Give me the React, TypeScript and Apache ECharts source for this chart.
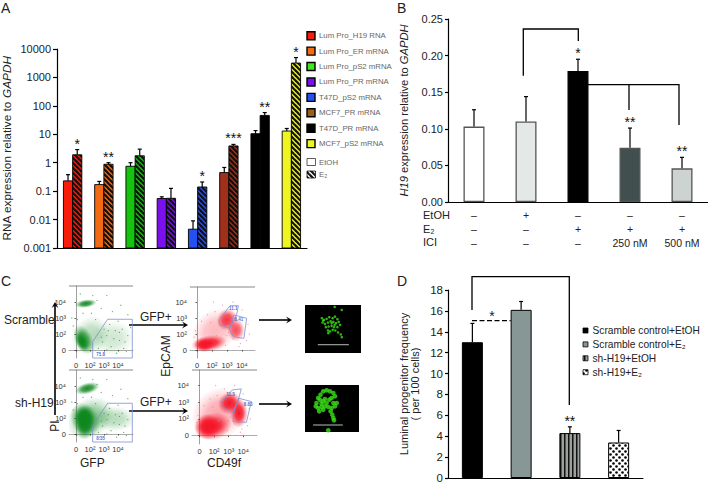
import React, { useEffect, useRef } from "react";
import * as echarts from "echarts";

const FONT = "Liberation Sans";

// Panel A
const catsA = ["Lum Pro_H19 RNA", "Lum Pro_ER mRNA", "Lum Pro_pS2 mRNA", "Lum Pro_PR mRNA", "T47D_pS2 mRNA", "MCF7_PR mRNA", "T47D_PR mRNA", "MCF7_pS2 mRNA"];
const etohA = [0.23, 0.17, 0.75, 0.055, 0.0046, 0.45, 10.5, 13];
const e2A = [1.9, 0.88, 1.75, 0.056, 0.14, 3.9, 46, 3200];
const etohTopA = [0.38, 0.22, 1.0, 0.063, 0.009, 0.68, 13.5, 16];
const e2TopA = [2.9, 1.0, 3.0, 0.125, 0.21, 4.4, 58, 5000];
const starsA = ["*", "**", "", "", "*", "***", "**", "*"];
const colorsA = ["#f81c0a", "#f36a14", "#14c40e", "#7a10ee", "#2550f0", "#a0301a", "#000000", "#eef520"];
const swatchA = ["#f81c0a", "#f36a14", "#3ee81c", "#7a10ee", "#2550f0", "#9a6018", "#000000", "#eef520"];
const ticksA = ["0.001", "0.01", "0.1", "1", "10", "100", "1000", "10000"];
const baseA = 0.001;

// Panel B
const catsB = ["–\n–\n–", "+\n–\n–", "–\n+\n–", "–\n+\n250 nM", "–\n+\n500 nM"];
const valsB = [0.103, 0.11, 0.179, 0.074, 0.046];
const topsB = [0.126, 0.144, 0.195, 0.101, 0.061];
const starsB = ["", "", "*", "**", "**"];
const colorsB = ["#ffffff", "#e4e9e7", "#000000", "#41504f", "#cdd3d0"];
const rowsB = ["EtOH", "E₂", "ICI"];

// Panel D
const catsD = ["Scramble control+EtOH", "Scramble control+E₂", "sh-H19+EtOH", "sh-H19+E₂"];
const valsD = [13, 16.1, 4.3, 3.4];
const topsD = [14.8, 16.9, 4.9, 4.55];
const starsD = ["", "", "**", ""];

// Panel C : cx, cy, rx, ry (decades), rotation deg, alpha
const cloud1 = [[1.0, 0.9, 1.5, 1.1, -50, 0.3], [2.6, 0.75, 1.6, 1.1, 0, 0.2], [0.55, 0.65, 0.65, 0.95, -25, 0.85], [0.42, 0.5, 0.42, 0.65, -22, 1], [0.7, 2.9, 0.78, 0.26, -8, 0.95]];
const cloud2 = [[1.0, 1.0, 1.8, 1.2, -35, 0.5], [2.7, 0.95, 1.6, 0.8, 0, 0.3], [0.65, 0.9, 1.0, 1.1, -30, 0.95], [0.6, 0.6, 0.7, 0.95, 0, 1], [0.6, 1.1, 0.7, 0.7, 0, 1], [0.8, 2.85, 0.9, 0.36, -14, 0.95]];
const cloud3 = [[1.2, 1.2, 1.7, 1.3, -42, 0.3], [0.8, 0.42, 1.2, 0.5, -8, 1], [0.45, 0.32, 0.65, 0.45, 0, 1], [2.0, 1.9, 0.68, 0.72, 30, 0.85], [2.6, 1.25, 0.6, 0.72, 0, 0.75]];
const cloud4 = [[1.3, 1.3, 2.0, 1.5, -42, 0.38], [0.9, 0.55, 1.3, 0.8, -14, 1], [0.5, 0.55, 0.85, 0.78, 0, 1], [2.05, 1.95, 0.82, 0.66, -30, 1], [2.7, 1.35, 0.62, 0.88, 0, 1]];
const specksG = [[1.6, 0.1], [1.9, 0.5], [2.2, 0.9], [2.5, 0.2], [2.8, 1.2], [3.1, 0.6], [3.4, 0.1], [3.7, 0.9], [3.9, 1.4], [2.0, 1.3], [2.4, 1.6], [3.0, 1.8], [3.3, 1.3], [1.7, -0.2], [2.9, -0.2], [3.6, -0.1], [1.4, 1.9], [1.1, 2.3], [0.5, 2.3], [1.8, 2.6], [2.6, 2.4], [3.2, 2.8], [1.5, 3.1], [0.3, 3.5], [1.2, 3.4], [2.2, 3.4], [-0.2, 1.5], [-0.3, 2.0], [3.7, 2.2], [2.2, 0.0], [2.7, 0.7], [3.5, 0.5], [1.8, 0.8], [2.3, 1.2], [3.1, 1.1], [0.1, 1.9]];
const specksR = [[1.9, 0.3], [2.4, 0.7], [2.9, 0.4], [3.3, 0.6], [1.6, 2.1], [1.2, 2.4], [0.7, 2.2], [0.3, 1.8], [1.7, 2.8], [2.4, 3.0], [3.0, 2.5], [3.4, 1.6], [3.5, 1.0], [2.0, 0.9], [1.5, 1.6], [0.9, 1.7], [-0.1, 1.2], [-0.2, 0.8], [1.1, 3.0], [2.1, 1.1], [2.8, 0.2], [1.3, 0.9]];
const gatesGreen = [[[1.19, -0.5], [1.19, 0.52], [2.26, 1.92], [4.02, 1.92], [4.02, -0.5], [1.19, -0.5]]];
const gates3 = [
  [[2.2, 2.77], [2.76, 2.77], [2.64, 2.19], [2.16, 1.36], [1.53, 1.56], [1.47, 1.88], [2.2, 2.77]],
  [[2.47, 2.19], [3.31, 1.98], [3.13, 0.73], [2.42, 0.83], [2.15, 1.29], [2.47, 2.19]],
];
const gates4 = [
  [[2.25, 2.74], [2.87, 2.8], [2.69, 2.24], [2.3, 1.38], [1.5, 1.74], [1.5, 2.04], [2.25, 2.74]],
  [[2.69, 2.24], [3.56, 2.04], [3.22, 0.8], [2.3, 0.84], [2.34, 1.34], [2.69, 2.24]],
];
const flowTicks = ["0", "10²", "10³", "10⁴"];
const colony1 = [[104, 21], [125, 30], [66, 55], [72, 60], [80, 57], [88, 52], [98, 55], [105, 50], [112, 58], [68, 68], [75, 72], [84, 68], [92, 64], [100, 66], [108, 70], [116, 66], [78, 82], [86, 80], [95, 78], [102, 82], [112, 82], [120, 75], [84, 92], [90, 95], [98, 90], [106, 92], [114, 98], [122, 104], [125, 112], [85, 100], [70, 62], [95, 70], [104, 75]];
const colony2 = [[55, 295], [62, 285], [70, 275], [80, 272], [90, 275], [100, 280], [105, 290], [95, 295], [60, 300], [50, 310], [48, 320], [55, 325], [65, 322], [75, 320], [85, 322], [95, 325], [105, 320], [110, 310], [100, 310], [70, 305], [65, 312], [75, 298], [88, 300], [80, 310], [92, 335], [97, 345], [100, 355], [102, 362], [85, 392], [58, 335], [70, 330]];
const scale1 = [[54, 135], [146, 135]];
const scale2 = [[40, 376], [128, 376]];

function tile(size: number, draw: (c: CanvasRenderingContext2D) => void) {
  const cv = document.createElement("canvas");
  cv.width = size;
  cv.height = size;
  draw(cv.getContext("2d") as CanvasRenderingContext2D);
  return { image: cv, repeat: "repeat" };
}
function hatch(bg: string, fg = "#111") {
  return tile(5, (c) => {
    c.fillStyle = bg;
    c.fillRect(0, 0, 5, 5);
    c.strokeStyle = fg;
    c.lineWidth = 2.2;
    for (const d of [-5, 0, 5]) {
      c.beginPath();
      c.moveTo(d - 1, -1);
      c.lineTo(d + 6, 6);
      c.stroke();
    }
  });
}
function stripes() {
  return tile(4, (c) => {
    c.fillStyle = "#9aa09c";
    c.fillRect(0, 0, 4, 4);
    c.fillStyle = "#111";
    c.fillRect(0, 0, 1.5, 4);
  });
}
function dots() {
  return tile(6, (c) => {
    c.fillStyle = "#fff";
    c.fillRect(0, 0, 6, 6);
    c.fillStyle = "#000";
    for (const [x, y] of [[1.5, 1.5], [4.5, 4.5]]) {
      c.beginPath();
      c.arc(x, y, 1.3, 0, Math.PI * 2);
      c.fill();
    }
  });
}

function logBars(vals: number[], off: number, fills: any[]) {
  return {
    type: "custom",
    xAxisIndex: 0,
    yAxisIndex: 0,
    data: vals.map((v, i) => [i, v]),
    encode: { x: 0, y: 1 },
    silent: true,
    z: 3,
    renderItem: (p: any, api: any) => {
      const a = api.coord([api.value(0), api.value(1)]);
      const b = api.coord([api.value(0), baseA]);
      return {
        type: "rect",
        shape: { x: a[0] + off, y: a[1], width: 9.2, height: b[1] - a[1] },
        style: { fill: fills[p.dataIndex], stroke: "#000", lineWidth: 0.9 },
      };
    },
  };
}

function errorSeries(idx: number, vals: number[], tops: number[], off: number, stars: string[], cap: number) {
  return {
    type: "custom",
    xAxisIndex: idx,
    yAxisIndex: idx,
    data: tops.map((t, i) => [i, t]),
    encode: { x: 0, y: 1 },
    clip: false,
    silent: true,
    z: 5,
    renderItem: (p: any, api: any) => {
      const i = p.dataIndex;
      const a = api.coord([api.value(0), api.value(1)]);
      const b = api.coord([api.value(0), vals[i]]);
      const x = a[0] + off;
      const st = { stroke: "#000", lineWidth: 1.2 };
      const kids: any[] = [
        { type: "line", shape: { x1: x, y1: b[1], x2: x, y2: a[1] }, style: st },
        { type: "line", shape: { x1: x - cap, y1: a[1], x2: x + cap, y2: a[1] }, style: st },
      ];
      if (stars[i]) {
        kids.push({
          type: "text",
          style: { text: stars[i], x, y: a[1] - 6, fill: "#111", fontSize: 14, fontFamily: FONT, align: "center", verticalAlign: "middle" },
        });
      }
      return { type: "group", children: kids };
    },
  };
}

function cloudSeries(idx: number, data: number[][], rgb: string) {
  return {
    type: "custom",
    xAxisIndex: idx,
    yAxisIndex: idx,
    data,
    encode: { x: 0, y: 1 },
    silent: true,
    clip: true,
    renderItem: (_p: any, api: any) => {
      const c = api.coord([api.value(0), api.value(1)]);
      const s = api.size([api.value(2), api.value(3)]);
      const al = api.value(5);
      return {
        type: "ellipse",
        x: c[0],
        y: c[1],
        rotation: (-api.value(4) * Math.PI) / 180,
        shape: { cx: 0, cy: 0, rx: s[0], ry: s[1] },
        style: {
          fill: {
            type: "radial",
            x: 0.5,
            y: 0.5,
            r: 0.5,
            colorStops: [
              { offset: 0, color: `rgba(${rgb},${al})` },
              { offset: 0.45, color: `rgba(${rgb},${al * 0.8})` },
              { offset: 0.75, color: `rgba(${rgb},${al * 0.32})` },
              { offset: 1, color: `rgba(${rgb},0)` },
            ],
          },
        },
      };
    },
  };
}

export default function App() {
  const ref = useRef<HTMLDivElement>(null);
  useEffect(() => {
    const chart = echarts.init(ref.current as HTMLDivElement, undefined, { renderer: "svg" });
    const black = { lineStyle: { color: "#000", width: 1.2 } };
    const label = { fontFamily: FONT, fontSize: 11, color: "#222" };
    const title = (name: string, gap: number, size: number) => ({
      name,
      nameLocation: "middle",
      nameRotate: 90,
      nameGap: gap,
      nameTextStyle: {
        fontFamily: FONT,
        fontSize: size,
        color: "#222",
        rich: {
          n: { fontFamily: FONT, fontSize: size, color: "#222" },
          i: { fontFamily: FONT, fontSize: size, color: "#222", fontStyle: "italic" },
        },
      },
    });

    const flows = [
      { left: 69, top: 286, w: 64, h: 72, xr: [-0.5, 4.07], yr: [-0.5, 4], cloud: cloud1, rgb: "14,135,30", spk: specksG, spc: "#3c9a40", gates: gatesGreen, labels: [[1.75, -0.28, "71.8"]] },
      { left: 69, top: 370, w: 64, h: 72, xr: [-0.5, 4.07], yr: [-0.5, 4], cloud: cloud2, rgb: "14,135,30", spk: specksG, spc: "#3c9a40", gates: gatesGreen, labels: [[1.75, -0.25, "8.35"]] },
      { left: 190, top: 287, w: 65, h: 71, xr: [-0.47, 3.87], yr: [-0.5, 3.94], cloud: cloud3, rgb: "245,20,40", spk: specksR, spc: "#f08a90", gates: gates3, labels: [[2.42, 2.62, "11.1"], [2.8, 1.92, "8.41"]] },
      { left: 192, top: 370, w: 65, h: 74, xr: [-0.53, 3.95], yr: [-0.5, 3.93], cloud: cloud4, rgb: "245,20,40", spk: specksR, spc: "#f08a90", gates: gates4, labels: [[2.12, 2.44, "11.3"], [3.33, 1.84, "8.83"]] },
    ];

    const grids: any[] = [
      { left: 56, top: 49, width: 251, height: 199 },
      { left: 448, top: 19, width: 260, height: 183 },
      { left: 448, top: 290, width: 195, height: 188 },
    ];
    const xAxes: any[] = [
      { gridIndex: 0, type: "category", data: catsA, axisLine: black, axisTick: { length: 4, ...black }, axisLabel: { show: false } },
      {
        gridIndex: 1,
        type: "category",
        data: catsB,
        axisLine: black,
        axisTick: { length: 3, ...black },
        axisLabel: { interval: 0, ...label, fontSize: 10.5, lineHeight: 14, margin: 6 },
      },
      { gridIndex: 2, type: "category", data: catsD, axisLine: black, axisTick: { length: 3, ...black }, axisLabel: { show: false } },
    ];
    const yAxes: any[] = [
      {
        gridIndex: 0,
        type: "log",
        logBase: 10,
        min: baseA,
        max: 10000,
        splitNumber: 7,
        splitLine: { show: false },
        axisLine: { show: true, ...black },
        axisTick: { show: true, length: 4, ...black },
        minorTick: { show: false },
        axisLabel: { ...label, margin: 6, formatter: (v: number) => ticksA[Math.round(Math.log10(v)) + 3] },
        ...title("{n|RNA expression relative to }{i|GAPDH}", 44, 11.8),
      },
      {
        gridIndex: 1,
        type: "value",
        min: 0,
        max: 0.25,
        interval: 0.05,
        splitLine: { show: false },
        axisLine: { show: true, ...black },
        axisTick: { show: true, length: 3, ...black },
        axisLabel: { ...label, margin: 5, formatter: (v: number) => v.toFixed(2) },
        ...title("{i|H19 }{n|expression relative to }{i|GAPDH}", 39, 11.2),
      },
      {
        gridIndex: 2,
        type: "value",
        min: 0,
        max: 18,
        interval: 2,
        splitLine: { show: false },
        axisLine: { show: true, ...black },
        axisTick: { show: true, length: 3, ...black },
        axisLabel: { ...label, fontSize: 11.5, margin: 5 },
        ...title("{n|Luminal progenitor frequency}\n{n|( per 100 cells)}", 28, 11),
      },
    ];
    const series: any[] = [
      logBars(etohA, -9.2, colorsA),
      logBars(e2A, 0, colorsA.map((c, i) => (i === 6 ? "#000" : hatch(c)))),
      errorSeries(0, etohA, etohTopA, -4.6, catsA.map(() => ""), 2),
      errorSeries(0, e2A, e2TopA, 4.6, starsA, 2),
      {
        type: "bar",
        xAxisIndex: 1,
        yAxisIndex: 1,
        barWidth: 21,
        data: valsB.map((v, i) => ({ value: v, itemStyle: { color: colorsB[i], borderColor: i === 2 ? "#000" : "#555", borderWidth: 1.3 } })),
      },
      errorSeries(1, valsB, topsB, 0, starsB, 2),
      {
        type: "bar",
        xAxisIndex: 2,
        yAxisIndex: 2,
        barWidth: 21,
        data: valsD.map((v, i) => ({
          value: v,
          itemStyle: { color: ["#000", "#869795", stripes(), dots()][i], borderColor: "#000", borderWidth: 1 },
        })),
      },
      errorSeries(2, valsD, topsD, 0, starsD, 2),
    ];

    flows.forEach((f) => {
      const idx = grids.length;
      grids.push({ left: f.left, top: f.top, width: f.w, height: f.h });
      xAxes.push({
        gridIndex: idx,
        type: "value",
        min: f.xr[0],
        max: f.xr[1],
        splitLine: { show: false },
        axisLine: { lineStyle: { color: "#777", width: 0.6, type: "dotted" } },
        axisTick: { length: 1.5, lineStyle: { color: "#333", width: 0.8 }, customValues: [0, 1, 2, 3] },
        axisLabel: { customValues: [0, 1, 2, 3], margin: 3, fontFamily: FONT, fontSize: 7.5, color: "#333", formatter: (v: number) => flowTicks[v] },
      });
      yAxes.push({
        gridIndex: idx,
        type: "value",
        min: f.yr[0],
        max: f.yr[1],
        splitLine: { show: false },
        axisLine: { show: true, lineStyle: { color: "#777", width: 0.7 } },
        axisTick: { show: true, length: 1.5, lineStyle: { color: "#333", width: 0.8 }, customValues: [0, 1, 2, 3] },
        axisLabel: { customValues: [0, 1, 2, 3], margin: 3, fontFamily: FONT, fontSize: 7.5, color: "#333", formatter: (v: number) => flowTicks[v] },
      });
      series.push(cloudSeries(idx, f.cloud, f.rgb));
      series.push({
        type: "scatter",
        xAxisIndex: idx,
        yAxisIndex: idx,
        symbolSize: 1.2,
        itemStyle: { color: f.spc },
        data: f.spk,
        silent: true,
      });
      f.gates.forEach((g) =>
        series.push({
          type: "line",
          xAxisIndex: idx,
          yAxisIndex: idx,
          data: g,
          symbol: "none",
          silent: true,
          clip: false,
          lineStyle: { color: "#7f8fd0", width: 0.8 },
        })
      );
      series.push({
        type: "scatter",
        xAxisIndex: idx,
        yAxisIndex: idx,
        symbolSize: 0,
        silent: true,
        data: f.labels,
        label: { show: true, position: "inside", fontFamily: FONT, fontSize: 4.5, fontWeight: "bold", color: "#3040c0", formatter: (p: any) => p.value[2] },
      });
    });

    const colonies = [
      { left: 305, top: 305, w: 56, h: 48, xr: [16, 182], yr: [15, 160], pts: colony1, bar: scale1, size: 2.6 },
      { left: 305, top: 385, w: 54, h: 47, xr: [16, 176], yr: [256, 397], pts: colony2, bar: scale2, size: 4.6 },
    ];
    colonies.forEach((c) => {
      const idx = grids.length;
      grids.push({ left: c.left, top: c.top, width: c.w, height: c.h, show: true, backgroundColor: "#000", borderWidth: 0 });
      xAxes.push({ gridIndex: idx, type: "value", min: c.xr[0], max: c.xr[1], show: false });
      yAxes.push({ gridIndex: idx, type: "value", inverse: true, min: c.yr[0], max: c.yr[1], show: false });
      series.push({ type: "scatter", xAxisIndex: idx, yAxisIndex: idx, symbolSize: c.size, silent: true, itemStyle: { color: "#3ae018" }, data: c.pts });
      series.push({ type: "line", xAxisIndex: idx, yAxisIndex: idx, symbol: "none", silent: true, lineStyle: { color: "#b8c0b8", width: 1 }, data: c.bar });
    });

    const txt = (text: string, x: number, y: number, o: any = {}) => ({
      type: "text",
      x,
      y,
      silent: true,
      style: { text, fontFamily: FONT, fontSize: 12, fill: "#222", verticalAlign: "middle", ...o },
    });
    const poly = (points: number[][], o: any = {}) => ({
      type: "polyline",
      silent: true,
      shape: { points },
      style: { stroke: "#000", lineWidth: 1.3, fill: "none", ...o },
    });
    const arrow = (x1: number, y1: number, x2: number, y2: number) => {
      const dx = Math.sign(x2 - x1);
      const dy = Math.sign(y2 - y1);
      const h = 6;
      return [
        poly([[x1, y1], [x2 - dx * 3, y2 - dy * 3]], { lineWidth: 1.6 }),
        {
          type: "polygon",
          silent: true,
          shape: {
            points: [[x2, y2], [x2 - dx * h - dy * 3.4, y2 - dy * h - dx * 3.4], [x2 - dx * 3.5, y2 - dy * 3.5], [x2 - dx * h + dy * 3.4, y2 - dy * h + dx * 3.4]],
          },
          style: { fill: "#000" },
        },
      ];
    };

    const legendA: any[] = [];
    catsA.forEach((c, i) => {
      const y = 35.7 + i * 15.42;
      legendA.push({ type: "rect", silent: true, shape: { x: 307, y: y - 4, width: 8, height: 8 }, style: { fill: swatchA[i], stroke: "#000", lineWidth: 1.4 } });
      legendA.push(txt(c, 319, y, { fontSize: 7.8, fill: "#666" }));
    });
    legendA.push({ type: "rect", silent: true, shape: { x: 307, y: 158.5, width: 8.5, height: 7 }, style: { fill: "#fff", stroke: "#333", lineWidth: 0.8 } });
    legendA.push(txt("EtOH", 319, 162, { fontSize: 7.8, fill: "#666" }));
    legendA.push({ type: "rect", silent: true, shape: { x: 307, y: 171, width: 8.5, height: 7 }, style: { fill: hatch("#fff"), stroke: "#111", lineWidth: 0.8 } });
    legendA.push(txt("E₂", 319, 174.5, { fontSize: 7.8, fill: "#666" }));

    const legendD: any[] = [];
    const swD: any[] = ["#000", "#869795", stripes(), dots()];
    catsD.forEach((c, i) => {
      const y = 330.5 + i * 13.9;
      legendD.push({ type: "rect", silent: true, shape: { x: 583, y: y - 2.5, width: 5, height: 5 }, style: { fill: swD[i], stroke: "#000", lineWidth: 0.8 } });
      legendD.push(txt(c, 592.5, y, { fontSize: 10.2 }));
    });

    const frames = flows.map((f) => poly([[f.left, f.top], [f.left + f.w, f.top]], { stroke: "#555", lineWidth: 0.7 }));

    const graphic: any[] = [
      txt("A", 1, 8, { fontSize: 14 }),
      txt("B", 397, 8, { fontSize: 14 }),
      txt("C", 1, 281, { fontSize: 14 }),
      txt("D", 397, 281, { fontSize: 14 }),
      ...legendA,
      ...legendD,
      ...rowsB.map((r, i) => txt(r, 423, 215 + i * 13.7, { fontSize: 11 })),
      poly([[523.3, 75.7], [523.3, 29], [578.3, 29], [578.3, 41]]),
      poly([[588, 84.7], [679, 84.7], [679, 125]]),
      poly([[629, 84.7], [629, 110]]),
      poly([[472, 310], [472, 276.7], [569.3, 276.7], [569.3, 405]]),
      poly([[472, 320.7], [510.7, 320.7]], { lineDash: [5, 2.5] }),
      txt("*", 492, 316, { align: "center", fontSize: 14 }),
      ...frames,
      ...arrow(55, 415, 55, 302),
      ...arrow(129, 325, 188, 325),
      ...arrow(129, 411, 188, 411),
      ...arrow(259, 320, 292, 320),
      ...arrow(259, 404, 292, 404),
      txt("Scramble", 4, 320),
      txt("sh-H19", 15, 403),
      txt("GFP+", 140, 317),
      txt("GFP+", 140, 402),
      txt("GFP", 80, 463),
      txt("CD49f", 207, 463),
      { ...txt("PI", 0, 0), x: 55, y: 426, rotation: Math.PI / 2, style: { text: "PI", fontFamily: FONT, fontSize: 12, fill: "#222", align: "center", verticalAlign: "middle" } },
      { ...txt("EpCAM", 0, 0), x: 166, y: 356, rotation: Math.PI / 2, style: { text: "EpCAM", fontFamily: FONT, fontSize: 12, fill: "#222", align: "center", verticalAlign: "middle" } },
    ];

    chart.setOption({
      animation: false,
      backgroundColor: "#fff",
      grid: grids,
      xAxis: xAxes,
      yAxis: yAxes,
      series,
      graphic,
    });
    return () => chart.dispose();
  }, []);
  return <div ref={ref} style={{ position: "absolute", left: 0, top: 0, width: 708, height: 484 }} />;
}
